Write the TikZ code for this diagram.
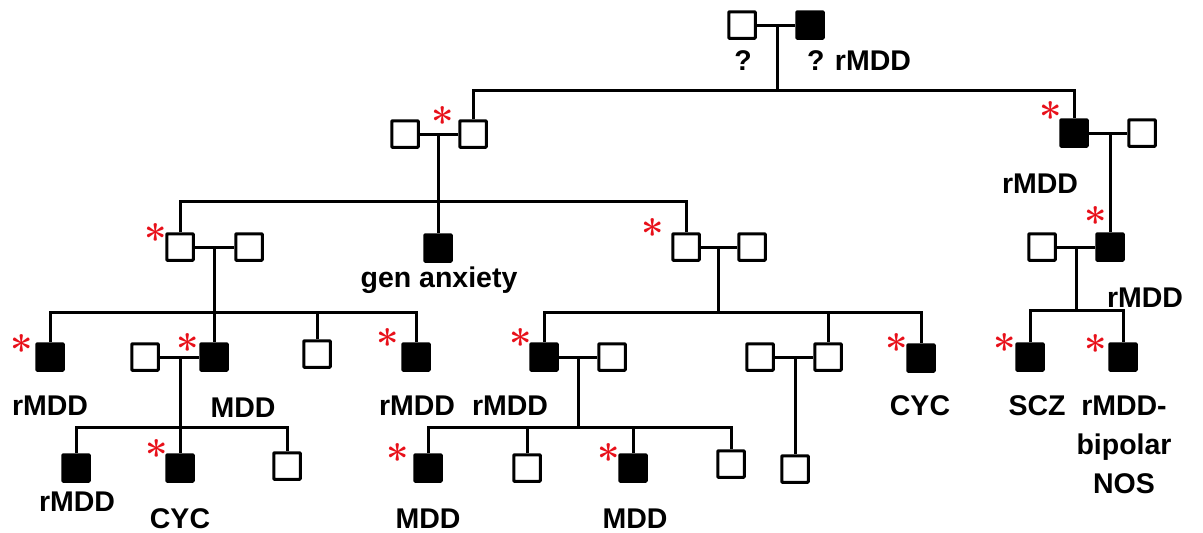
\documentclass[tikz,border=0pt]{standalone}
\usepackage{fontspec}
\setmainfont{Latin Modern Roman}
\newfontfamily\lblfont{Liberation Sans}
\definecolor{starred}{RGB}{232,16,26}
\begin{document}
\begin{tikzpicture}[x=1pt,y=-1pt,
  line width=3pt,
  person/.style={draw, line width=3pt, minimum width=26.5pt, minimum height=26.5pt, inner sep=0pt, rounded corners=0.8pt},
  open/.style={person, fill=white},
  aff/.style={person, fill=black},
  lbl/.style={font=\lblfont\bfseries\fontsize{28.5}{39}\selectfont, inner sep=0pt, anchor=base, align=center},
  star/.style={text=starred, font=\bfseries\fontsize{40}{40}\selectfont, inner sep=0pt, anchor=center}
]
\useasboundingbox (0,0) rectangle (1203,533);
% generation I
\node[open] (A) at (742,25) {};
\node[aff]  (B) at (810,25) {};
% generation II
\node[open] (C) at (405,134) {};
\node[open] (D) at (473,134) {};
\node[aff]  (E) at (1074,133) {};
\node[open] (F) at (1142,133) {};
% generation III
\node[open] (H) at (180,247) {};
\node[open] (I) at (249,247) {};
\node[aff]  (J) at (438,248) {};
\node[open] (K) at (686,247) {};
\node[open] (L) at (752,247) {};
\node[open] (M) at (1042,247) {};
\node[aff]  (G) at (1110,247) {};
% generation IV
\node[aff]  (P) at (50,357) {};
\node[open] (R) at (145,357) {};
\node[aff]  (Q) at (214,357) {};
\node[open] (S) at (317,354) {};
\node[aff]  (T) at (416,357) {};
\node[aff]  (U) at (544,357) {};
\node[open] (V) at (612,357) {};
\node[open] (X) at (760,357) {};
\node[open] (W) at (828,357) {};
\node[aff]  (Z) at (921,358) {};
\node[aff]  (N) at (1030,357) {};
\node[aff]  (O) at (1123,357) {};
% generation V
\node[aff]  (c1) at (76,468) {};
\node[aff]  (c2) at (180,468) {};
\node[open] (c3) at (287,466) {};
\node[aff]  (d1) at (428,468) {};
\node[open] (d2) at (527,468) {};
\node[aff]  (d3) at (633,468) {};
\node[open] (d4) at (731,464) {};
\node[open] (Y) at (795,469) {};

% junction coordinates
\coordinate (m0) at (777,25);  \coordinate (s0) at (777,90);
\coordinate (m1) at (438,134); \coordinate (s1) at (438,201);
\coordinate (m2) at (214,247); \coordinate (s2) at (214,312);
\coordinate (m4) at (718,247); \coordinate (s4) at (718,312);
\coordinate (m3) at (180,357); \coordinate (s3) at (180,427);
\coordinate (m5) at (578,357); \coordinate (s5) at (578,427);
\coordinate (m6) at (795,357);
\coordinate (m7) at (1110,133);
\coordinate (m8) at (1076,247); \coordinate (s8) at (1076,310);

% connectors
\draw (A) -- (B);
\draw (m0) -- (s0);
\draw (D.north) |- (s0) -| (E.north);

\draw (C) -- (D);
\draw (m1) -- (J.north);
\draw (H.north) |- (s1) -| (K.north);

\draw (E) -- (F);
\draw (m7) -- (G.north);
\draw (M) -- (G);
\draw (m8) -- (s8);
\draw (N.north) |- (s8) -| (O.north);

\draw (H) -- (I);
\draw (m2) -- (Q.north);
\draw (P.north) |- (s2) -| (T.north);
\draw (S.north) -- (S.north |- s2);

\draw (K) -- (L);
\draw (m4) -- (s4);
\draw (U.north) |- (s4) -| (Z.north);
\draw (W.north) -- (W.north |- s4);

\draw (R) -- (Q);
\draw (m3) -- (s3);
\draw (c1.north) |- (s3) -| (c3.north);
\draw (s3) -- (c2.north);

\draw (U) -- (V);
\draw (m5) -- (s5);
\draw (d1.north) |- (s5) -| (d4.north);
\draw (d2.north) -- (d2.north |- s5);
\draw (d3.north) -- (d3.north |- s5);

\draw (X) -- (W);
\draw (m6) -- (Y.north);

% labels
\node[lbl] (tA) at (743,70) {?};
\node[lbl] (tB) at (859,70) {? rMDD};
\node[lbl] (tJ) at (439,287) {gen anxiety};
\node[lbl] (tE) at (1040,193) {rMDD};
\node[lbl] (tG) at (1145,307) {rMDD};
\node[lbl] (tN) at (1037,415) {SCZ};
\node[lbl] (tO) at (1124,493) {rMDD-\\bipolar\\NOS};
\node[lbl] (tP) at (50,415) {rMDD};
\node[lbl] (tQ) at (243,417) {MDD};
\node[lbl] (tT) at (417,415) {rMDD};
\node[lbl] (tU) at (510,415) {rMDD};
\node[lbl] (tZ) at (920,415) {CYC};
\node[lbl] (tc1) at (77,511) {rMDD};
\node[lbl] (tc2) at (180,528) {CYC};
\node[lbl] (td1) at (428,528) {MDD};
\node[lbl] (td3) at (635,528) {MDD};

% asterisks
\node[star] (a1) at (443,121) {*};
\node[star] (a2) at (1051,116) {*};
\node[star] (a3) at (156,238) {*};
\node[star] (a4) at (653,233) {*};
\node[star] (a5) at (1096,221) {*};
\node[star] (a6) at (22,349) {*};
\node[star] (a7) at (188,348) {*};
\node[star] (a8) at (388,343) {*};
\node[star] (a9) at (521,343) {*};
\node[star] (a10) at (897,348) {*};
\node[star] (a11) at (1005,348) {*};
\node[star] (a12) at (1096,349) {*};
\node[star] (a13) at (157,454) {*};
\node[star] (a14) at (398,458) {*};
\node[star] (a15) at (609,458) {*};
\end{tikzpicture}
\end{document}
